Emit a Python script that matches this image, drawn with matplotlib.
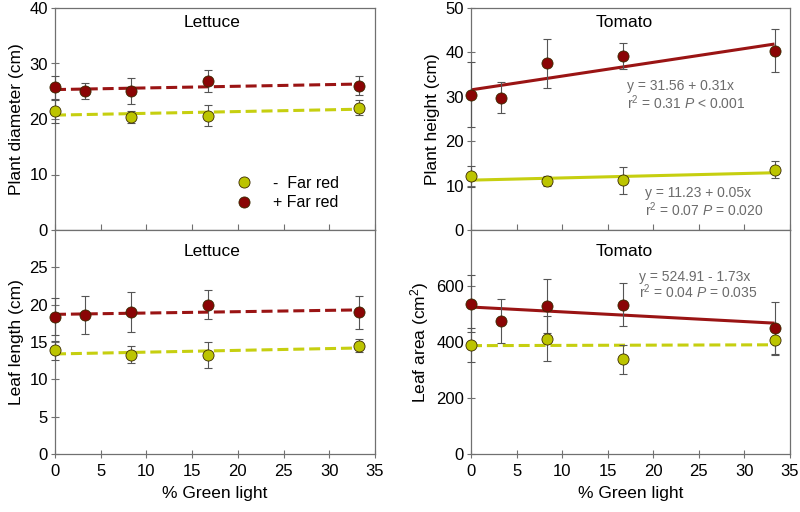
import matplotlib
matplotlib.use("Agg")
import matplotlib.pyplot as plt
from matplotlib.lines import Line2D
import numpy as np

plt.rcParams['font.family'] = ['Liberation Sans', 'DejaVu Sans']
plt.rcParams['mathtext.fontset'] = 'custom'
plt.rcParams['mathtext.rm'] = 'Liberation Sans'
plt.rcParams['mathtext.it'] = 'Liberation Sans:italic'

# ---------------- data ----------------
green_all = [0, 3.3, 8.3, 16.7, 33.3]
green_minus = [0, 8.3, 16.7, 33.3]

# Lettuce plant diameter (cm)
diam_plus = [25.7, 25.0, 25.0, 26.8, 26.0]
diam_plus_err = [2.1, 1.45, 2.3, 2.0, 1.75]
diam_minus = [21.4, 20.4, 20.6, 22.0]
diam_minus_err = [2.1, 1.1, 1.95, 1.35]
diam_plus_fit = [25.3, 0.030]   # intercept, slope
diam_minus_fit = [20.7, 0.032]

# Tomato plant height (cm)
height_plus = [30.5, 29.8, 37.5, 39.2, 40.4]
height_plus_err = [7.3, 3.5, 5.5, 3.0, 4.8]
height_minus = [12.1, 11.0, 11.2, 13.6]
height_minus_err = [2.4, 1.2, 3.1, 2.0]
height_plus_fit = [31.56, 0.31]
height_minus_fit = [11.23, 0.05]

# Lettuce leaf length (cm)
leaf_plus = [18.4, 18.6, 19.0, 20.0, 19.0]
leaf_plus_err = [2.5, 2.55, 2.65, 1.95, 2.2]
leaf_minus = [13.9, 13.3, 13.3, 14.5]
leaf_minus_err = [1.3, 1.1, 1.75, 0.9]
leaf_plus_fit = [18.7, 0.018]
leaf_minus_fit = [13.4, 0.024]

# Tomato leaf area (cm2)
area_plus = [537, 474, 529, 533, 451]
area_plus_err = [102, 78, 97, 76, 93]
area_minus = [389, 412, 338, 407]
area_minus_err = [60, 81, 52, 55]
area_plus_fit = [524.91, -1.73]
area_minus_fit = [387, 0.09]

x_ticks = [0, 5, 10, 15, 20, 25, 30, 35]
legend_labels = ['-  Far red', '+ Far red']

# ---------------- style ----------------
YEL_M = '#bcc400'
YEL_L = '#c6cf10'
RED_M = '#8a0505'
RED_L = '#9a1414'
SPINE = '#707070'
ANN = '#6b6b6b'

fig = plt.figure(figsize=(8, 5.12), dpi=100)
axTL = fig.add_axes([55/800, 1-230/512, 320/800, 222/512])
axTR = fig.add_axes([471/800, 1-230/512, 319/800, 222/512])
axBL = fig.add_axes([55/800, 1-454/512, 320/800, 224/512])
axBR = fig.add_axes([471/800, 1-454/512, 319/800, 224/512])


def draw(ax, xp, yp, ep, xm, ym, em, fitp, fitm, solid_p, solid_m):
    xl = np.array([0, 33.3])
    for fit, col, solid in ((fitm, YEL_L, solid_m), (fitp, RED_L, solid_p)):
        yl = fit[0] + fit[1] * xl
        if solid:
            ax.plot(xl, yl, color=col, lw=2.2, zorder=2, solid_capstyle='butt')
        else:
            ax.plot(xl, yl, color=col, lw=2.2, zorder=2, dashes=(3.6, 1.6))
    for x, y, e, c in ((xm, ym, em, YEL_M), (xp, yp, ep, RED_M)):
        eb = ax.errorbar(x, y, yerr=e, fmt='none', ecolor='#555555',
                         elinewidth=0.8, capsize=2.7, capthick=0.8, zorder=3)
        for art in eb.lines[1] + eb.lines[2]:
            art.set_clip_on(False)
        ax.plot(x, y, 'o', ms=8, mfc=c, mec='#3a2a00', mew=0.6,
                zorder=4, clip_on=False)


draw(axTL, green_all, diam_plus, diam_plus_err, green_minus, diam_minus,
     diam_minus_err, diam_plus_fit, diam_minus_fit, False, False)
draw(axTR, green_all, height_plus, height_plus_err, green_minus, height_minus,
     height_minus_err, height_plus_fit, height_minus_fit, True, True)
draw(axBL, green_all, leaf_plus, leaf_plus_err, green_minus, leaf_minus,
     leaf_minus_err, leaf_plus_fit, leaf_minus_fit, False, False)
draw(axBR, green_all, area_plus, area_plus_err, green_minus, area_minus,
     area_minus_err, area_plus_fit, area_minus_fit, True, False)

for ax in (axTL, axTR, axBL, axBR):
    ax.set_xlim(0, 35)
    ax.set_xticks(x_ticks)
    for s in ax.spines.values():
        s.set_color(SPINE)
        s.set_linewidth(0.9)
    ax.tick_params(axis='y', direction='inout', length=6, width=0.8,
                   color=SPINE, labelsize=12, pad=2)

for ax in (axTL, axTR):
    ax.tick_params(axis='x', direction='in', length=4, width=0.8,
                   color=SPINE, labelbottom=False)
for ax in (axBL, axBR):
    ax.tick_params(axis='x', direction='inout', length=6, width=0.8,
                   color=SPINE, labelsize=12, pad=4)
    ax.set_xlabel('% Green light', fontsize=12.5, labelpad=5)

axTL.set_ylim(0, 40)
axTL.set_yticks([0, 10, 20, 30, 40])
axTR.set_ylim(0, 50)
axTR.set_yticks([0, 10, 20, 30, 40, 50])
axBL.set_ylim(0, 30)
axBL.set_yticks([0, 5, 10, 15, 20, 25])
axBR.set_ylim(0, 800)
axBR.set_yticks([0, 200, 400, 600])

axTL.set_ylabel('Plant diameter (cm)', fontsize=12.5, labelpad=4)
axTR.set_ylabel('Plant height (cm)', fontsize=12.5, labelpad=4)
axBL.set_ylabel('Leaf length (cm)', fontsize=12.5, labelpad=4)
axBR.set_ylabel('Leaf area (cm$^2$)', fontsize=12.5, labelpad=4)

axTL.text(0.49, 0.935, 'Lettuce', transform=axTL.transAxes, ha='center',
          va='center', fontsize=12.5)
axBL.text(0.49, 0.905, 'Lettuce', transform=axBL.transAxes, ha='center',
          va='center', fontsize=12.5)
axTR.text(0.48, 0.935, 'Tomato', transform=axTR.transAxes, ha='center',
          va='center', fontsize=12.5)
axBR.text(0.48, 0.905, 'Tomato', transform=axBR.transAxes, ha='center',
          va='center', fontsize=12.5)

ann = dict(fontsize=10, color=ANN, ha='left', va='center')
axTR.text(0.489, 0.649, 'y = 31.56 + 0.31x', transform=axTR.transAxes, **ann)
axTR.text(0.489, 0.572, 'r$^2$ = 0.31 $P$ < 0.001', transform=axTR.transAxes, **ann)
axTR.text(0.545, 0.167, 'y = 11.23 + 0.05x', transform=axTR.transAxes, **ann)
axTR.text(0.545, 0.090, 'r$^2$ = 0.07 $P$ = 0.020', transform=axTR.transAxes, **ann)
axBR.text(0.527, 0.790, 'y = 524.91 - 1.73x', transform=axBR.transAxes, **ann)
axBR.text(0.527, 0.723, 'r$^2$ = 0.04 $P$ = 0.035', transform=axBR.transAxes, **ann)

handles = [Line2D([], [], ls='none', marker='o', ms=8, mfc=YEL_M, mec='#3a2a00', mew=0.6),
           Line2D([], [], ls='none', marker='o', ms=8, mfc=RED_M, mec='#3a2a00', mew=0.6)]
axTL.legend(handles, legend_labels, loc='center left', bbox_to_anchor=(0.567, 0.167),
            frameon=False, fontsize=11.5, handlelength=1.0, handletextpad=1.3,
            borderpad=0, borderaxespad=0, labelspacing=0.3)

fig.savefig('out.png', dpi=100)
